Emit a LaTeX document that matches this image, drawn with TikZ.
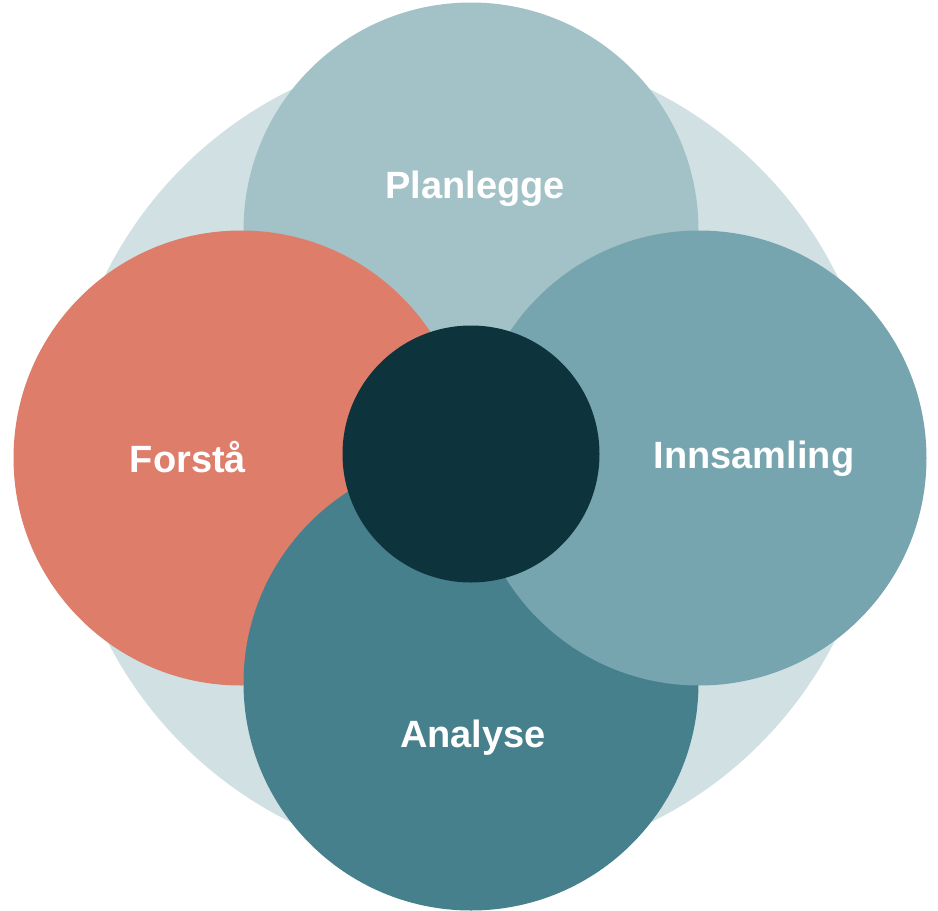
\documentclass[tikz,border=0pt]{standalone}
\usepackage{fontspec}
\setmainfont{Liberation Sans}

\definecolor{ringcol}{HTML}{D0E0E3}
\definecolor{plancol}{HTML}{A2C2C7}
\definecolor{forstacol}{HTML}{DD7D6A}
\definecolor{innsamcol}{HTML}{76A5AF}
\definecolor{analysecol}{HTML}{47808D}
\definecolor{hubcol}{HTML}{0D343D}

\tikzstyle{stage} = [circle, minimum size=455pt, inner sep=0pt]
\tikzstyle{hub}   = [circle, fill=hubcol, minimum size=257pt, inner sep=0pt]
\tikzstyle{tag}   = [anchor=base, text=white, font=\fontsize{38}{44}\selectfont\bfseries]

\begin{document}
\begin{tikzpicture}[x=1pt, y=-1pt]
  \useasboundingbox (0,0) rectangle (938,911);
  \node at (471,456) (ring) [circle, fill=ringcol, minimum size=816pt, inner sep=0pt] {};
  \node at (471,230) (plan)    [stage, fill=plancol] {};
  \node at (241,458) (forsta)  [stage, fill=forstacol] {};
  \node at (471,683) (analyse) [stage, fill=analysecol] {};
  \node at (699,458) (innsam)  [stage, fill=innsamcol] {};
  \node at (471,454) (hub) [hub] {};
  \node at (475,198) (plan-t)    [tag] {Planlegge};
  \node at (188,472) (forsta-t)  [tag] {Forstå};
  \node at (754,468) (innsam-t)  [tag] {Innsamling};
  \node at (473,747) (analyse-t) [tag] {Analyse};
\end{tikzpicture}
\end{document}
